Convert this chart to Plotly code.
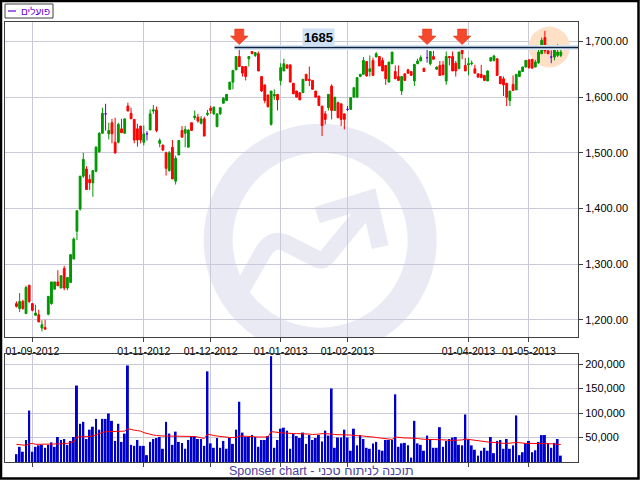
import plotly.graph_objects as go

# Daily candles (Bank Hapoalim), one entry per trading day
opens = [
    1229, 1220, 1233, 1211, 1262, 1229, 1208, 1209, 1185, 1186,
    1210, 1229, 1255, 1268, 1257, 1292, 1257, 1267, 1309, 1359,
    1399, 1458, 1471, 1452, 1446, 1467, 1502, 1535, 1570, 1534,
    1554, 1519, 1519, 1543, 1535, 1584, 1571, 1560, 1543, 1548,
    1519, 1534, 1541, 1575, 1577, 1517, 1514, 1500, 1468, 1510,
    1449, 1496, 1540, 1535, 1510, 1554, 1563, 1564, 1553, 1561,
    1569, 1580, 1570, 1547, 1570, 1589, 1594, 1614, 1627, 1649,
    1673, 1655, 1655, 1669, 1682, 1675, 1678, 1637, 1622, 1604,
    1551, 1602, 1605, 1630, 1647, 1658, 1658, 1625, 1611, 1608,
    1608, 1641, 1632, 1630, 1611, 1602, 1584, 1570, 1581, 1620,
    1576, 1590, 1588, 1570, 1578, 1578, 1600, 1600, 1637, 1641,
    1664, 1646, 1666, 1672, 1673, 1666, 1657, 1627, 1660, 1646,
    1637, 1611, 1642, 1649, 1646, 1629, 1660, 1665, 1652, 1671,
    1660, 1673, 1650, 1657, 1658, 1629, 1673, 1673, 1661, 1651,
    1686, 1657, 1658, 1660, 1651, 1642, 1641, 1639, 1629, 1665,
    1666, 1669, 1637, 1633, 1625, 1594, 1623, 1613, 1637, 1646,
    1654, 1667, 1668, 1654, 1662, 1678, 1707, 1683, 1672, 1672,
    1675, 1675,
]
highs = [
    1233, 1248, 1236, 1261, 1263, 1229, 1227, 1218, 1199, 1200,
    1242, 1268, 1268, 1289, 1280, 1297, 1276, 1317, 1348, 1396,
    1458, 1500, 1476, 1461, 1468, 1512, 1537, 1581, 1588, 1554,
    1561, 1563, 1554, 1561, 1561, 1590, 1581, 1560, 1552, 1548,
    1549, 1539, 1578, 1586, 1583, 1526, 1514, 1502, 1503, 1523,
    1495, 1522, 1548, 1548, 1542, 1554, 1576, 1570, 1566, 1565,
    1577, 1584, 1583, 1570, 1581, 1600, 1605, 1627, 1649, 1673,
    1689, 1655, 1655, 1673, 1682, 1681, 1682, 1637, 1622, 1604,
    1611, 1614, 1605, 1661, 1669, 1658, 1658, 1625, 1611, 1608,
    1632, 1641, 1655, 1630, 1611, 1602, 1584, 1575, 1605, 1623,
    1600, 1592, 1588, 1570, 1584, 1599, 1617, 1636, 1641, 1672,
    1664, 1675, 1671, 1681, 1673, 1671, 1657, 1663, 1681, 1657,
    1657, 1637, 1642, 1651, 1646, 1659, 1669, 1675, 1652, 1689,
    1682, 1683, 1655, 1665, 1665, 1682, 1674, 1682, 1665, 1681,
    1689, 1670, 1671, 1666, 1658, 1642, 1658, 1639, 1648, 1672,
    1676, 1669, 1637, 1637, 1625, 1611, 1639, 1641, 1647, 1655,
    1667, 1667, 1668, 1667, 1685, 1707, 1719, 1690, 1684, 1692,
    1695, 1690,
]
lows = [
    1222, 1214, 1218, 1211, 1230, 1215, 1208, 1196, 1179, 1183,
    1208, 1227, 1254, 1261, 1257, 1253, 1253, 1267, 1309, 1343,
    1396, 1455, 1434, 1433, 1421, 1465, 1500, 1535, 1540, 1524,
    1517, 1498, 1517, 1536, 1535, 1575, 1561, 1517, 1511, 1517,
    1513, 1522, 1541, 1570, 1537, 1510, 1503, 1459, 1466, 1453,
    1443, 1496, 1528, 1510, 1510, 1540, 1559, 1554, 1551, 1530,
    1566, 1570, 1568, 1546, 1568, 1589, 1594, 1614, 1614, 1649,
    1655, 1637, 1630, 1655, 1678, 1672, 1647, 1609, 1589, 1581,
    1549, 1595, 1576, 1621, 1647, 1652, 1627, 1606, 1600, 1595,
    1608, 1630, 1620, 1614, 1600, 1585, 1530, 1551, 1576, 1560,
    1576, 1563, 1548, 1542, 1575, 1578, 1600, 1600, 1636, 1641,
    1637, 1637, 1639, 1672, 1656, 1647, 1622, 1627, 1660, 1633,
    1630, 1604, 1630, 1642, 1639, 1620, 1660, 1665, 1646, 1662,
    1657, 1668, 1650, 1639, 1640, 1622, 1657, 1647, 1637, 1651,
    1668, 1647, 1639, 1657, 1643, 1635, 1635, 1630, 1629, 1664,
    1664, 1639, 1624, 1602, 1584, 1584, 1612, 1613, 1637, 1646,
    1654, 1651, 1652, 1654, 1660, 1678, 1678, 1678, 1661, 1666,
    1672, 1672,
]
closes = [
    1224, 1233, 1220, 1258, 1233, 1217, 1212, 1196, 1191, 1183,
    1242, 1268, 1268, 1261, 1279, 1257, 1276, 1317, 1345, 1396,
    1458, 1488, 1434, 1446, 1468, 1510, 1535, 1571, 1570, 1540,
    1534, 1500, 1551, 1536, 1561, 1575, 1561, 1523, 1523, 1523,
    1534, 1534, 1570, 1577, 1540, 1522, 1505, 1472, 1500, 1453,
    1490, 1522, 1528, 1542, 1541, 1540, 1566, 1557, 1561, 1530,
    1571, 1576, 1582, 1570, 1581, 1598, 1605, 1627, 1648, 1673,
    1655, 1643, 1637, 1673, 1678, 1680, 1647, 1611, 1594, 1583,
    1611, 1605, 1595, 1653, 1660, 1652, 1627, 1606, 1600, 1595,
    1632, 1630, 1630, 1614, 1600, 1585, 1549, 1560, 1605, 1576,
    1600, 1563, 1560, 1560, 1578, 1599, 1617, 1635, 1641, 1666,
    1638, 1651, 1639, 1678, 1656, 1647, 1633, 1663, 1681, 1633,
    1630, 1637, 1630, 1643, 1639, 1659, 1665, 1671, 1646, 1671,
    1682, 1668, 1654, 1639, 1640, 1673, 1671, 1647, 1647, 1681,
    1678, 1647, 1660, 1661, 1643, 1636, 1635, 1630, 1647, 1671,
    1674, 1639, 1624, 1622, 1600, 1611, 1612, 1641, 1647, 1654,
    1666, 1653, 1652, 1663, 1681, 1702, 1683, 1678, 1672, 1690,
    1681, 1681,
]
volumes = [
    16000, 31000, 21000, 45000, 105000, 21000, 31000, 34000, 35000, 29000,
    35000, 40000, 31000, 51000, 45000, 47000, 35000, 43000, 51000, 156000,
    78000, 82000, 47000, 66000, 72000, 88000, 66000, 88000, 88000, 99000,
    84000, 43000, 78000, 41000, 58000, 197000, 35000, 33000, 45000, 33000,
    33000, 14000, 41000, 47000, 49000, 51000, 27000, 82000, 58000, 35000,
    62000, 41000, 39000, 27000, 45000, 53000, 53000, 47000, 47000, 33000,
    185000, 38000, 29000, 49000, 29000, 43000, 27000, 49000, 37000, 66000,
    123000, 60000, 51000, 51000, 55000, 51000, 31000, 45000, 45000, 53000,
    216000, 29000, 45000, 68000, 70000, 64000, 27000, 58000, 53000, 49000,
    60000, 37000, 55000, 45000, 49000, 55000, 42000, 64000, 54000, 150000,
    29000, 50000, 50000, 66000, 50000, 23000, 68000, 34000, 55000, 47000,
    29000, 27000, 38000, 41000, 25000, 23000, 45000, 45000, 45000, 138000,
    31000, 38000, 39000, 34000, 9000, 84000, 38000, 35000, 23000, 54000,
    47000, 29000, 29000, 71000, 31000, 43000, 47000, 50000, 51000, 35000,
    34000, 97000, 46000, 34000, 25000, 13000, 23000, 29000, 23000, 51000,
    18000, 43000, 45000, 27000, 47000, 27000, 34000, 95000, 14000, 20000,
    38000, 43000, 20000, 24000, 41000, 55000, 55000, 38000, 29000, 39000,
    47000, 13000,
]
volume_avg = [
    36000, 35000, 34000, 34000, 37000, 38000, 36000, 36000, 36000, 36000,
    36000, 36000, 36000, 36000, 37000, 38000, 38000, 40000, 41000, 51000,
    51000, 51000, 52000, 52000, 53000, 56000, 58000, 60000, 62000, 62000,
    62000, 62000, 62000, 62000, 63000, 68000, 66000, 65000, 64000, 63000,
    60000, 58000, 56000, 55000, 54000, 53000, 53000, 53000, 53000, 53000,
    53000, 53000, 53000, 53000, 53000, 53000, 52000, 51000, 50000, 48000,
    57000, 55000, 54000, 53000, 52000, 51000, 51000, 50000, 50000, 50000,
    53000, 53000, 52000, 52000, 52000, 51000, 51000, 51000, 51000, 51000,
    62000, 61000, 60000, 59000, 59000, 59000, 58000, 58000, 58000, 58000,
    58000, 57000, 57000, 56000, 56000, 57000, 58000, 58000, 57000, 57000,
    56000, 56000, 56000, 55000, 55000, 55000, 54000, 54000, 53000, 53000,
    52000, 52000, 51000, 50000, 49000, 48000, 47000, 46000, 46000, 51000,
    50000, 50000, 49000, 49000, 49000, 49000, 48000, 47000, 46000, 46000,
    46000, 46000, 45000, 45000, 45000, 45000, 44000, 44000, 44000, 44000,
    45000, 47000, 46000, 45000, 45000, 44000, 43000, 42000, 41000, 40000,
    40000, 39000, 39000, 38000, 38000, 38000, 39000, 40000, 39000, 39000,
    38000, 38000, 38000, 38000, 37000, 37000, 37000, 37000, 37000, 37000,
    36000, 36000,
]

tick_idx = [5, 40, 61, 83, 104, 142, 161]
tick_text = ["01-09-2012", "01-11-2012", "01-12-2012", "01-01-2013",
             "01-02-2013", "01-04-2013", "01-05-2013"]
price_ticks = [1200, 1300, 1400, 1500, 1600, 1700]
volume_ticks = [50000, 100000, 150000, 200000]

resistance_level = 1689
resistance_label = "1685"
arrow_idx = [70, 129, 140]

FONT = "Liberation Sans, Arial, DejaVu Sans"
GREEN = "#009600"
RED = "#ff0000"
DOJI = "#6a00d4"
GRID = "#c9c9da"
FRAME = "#404040"
WATERMARK = "#eaeaf4"

# plot area is 573 x 440 px (margins l=5, r=62, t=22, b=18)
PW, PH = 573, 440

n = len(opens)
idx = list(range(n))
doji = [i for i in idx if opens[i] == closes[i]]
plain = [i for i in idx if opens[i] != closes[i]]


def pick(values, which):
    return [values[i] for i in which]


def px(x, y):
    """page pixel -> paper coords"""
    return (x - 5) / PW, 1 + (22 - y) / PH


x_range = [-3.6, n + 4.4]

fig = go.Figure()

fig.add_trace(go.Candlestick(
    x=plain, open=pick(opens, plain), high=pick(highs, plain),
    low=pick(lows, plain), close=pick(closes, plain),
    increasing=dict(line=dict(color=GREEN, width=1), fillcolor=GREEN),
    decreasing=dict(line=dict(color=RED, width=1), fillcolor=RED),
    whiskerwidth=0, xaxis="x", yaxis="y", name="פועלים",
))
# unchanged days are drawn in purple, like the legend line
fig.add_trace(go.Candlestick(
    x=doji, open=pick(opens, doji), high=pick(highs, doji),
    low=pick(lows, doji), close=pick(closes, doji),
    increasing=dict(line=dict(color=DOJI, width=1), fillcolor=DOJI),
    decreasing=dict(line=dict(color=DOJI, width=1), fillcolor=DOJI),
    whiskerwidth=0, xaxis="x", yaxis="y",
))

fig.add_trace(go.Bar(
    x=idx, y=volumes, width=0.62,
    marker=dict(color="#0000cc", line=dict(width=0)),
    xaxis="x2", yaxis="y2",
))
fig.add_trace(go.Scatter(
    x=idx, y=volume_avg, mode="lines",
    line=dict(color=RED, width=1),
    xaxis="x2", yaxis="y2",
))

shapes = []

# watermark logo: ring plus rising arrow, in pixels around its centre
logo = dict(xref="x", yref="y", xsizemode="pixel", ysizemode="pixel",
            xanchor=95.4, yanchor=1343, layer="below")
shapes.append(dict(type="circle", x0=-102, x1=102, y0=-102, y1=102,
                   line=dict(color=WATERMARK, width=29), **logo))
shapes.append(dict(
    type="path",
    path="M -80,-52 L -56,-10 Q -47,3 -34,-3 L -3,-19 Q 3,-22 8,-15 L 45,30"
         " M -3,25 L 49,41 L 60,-7",
    line=dict(color=WATERMARK, width=17), **logo))

# highlight around the latest sessions
shapes.append(dict(
    type="circle", xref="x", yref="y", xsizemode="pixel", ysizemode="pixel",
    xanchor=n - 4.6, yanchor=resistance_level, x0=-20.5, x1=20.5,
    y0=-20, y1=21, layer="between",
    fillcolor="#fde0c6", line=dict(width=0),
))

# resistance line with its light glow
for width, color in [(5, "#d8e7f5"), (1.5, "#0d2240")]:
    shapes.append(dict(
        type="line", xref="x", yref="y",
        x0=arrow_idx[0] - 1.5, x1=x_range[1],
        y0=resistance_level, y1=resistance_level,
        line=dict(color=color, width=width), layer="above",
    ))

for i in arrow_idx:
    shapes.append(dict(
        type="path", xref="x", yref="y", xsizemode="pixel", ysizemode="pixel",
        xanchor=i, yanchor=resistance_level,
        path="M 0,3 L -8.8,11.5 L -4.5,11.5 L -4.5,18.5 L 4.5,18.5 L 4.5,11.5 L 8.8,11.5 Z",
        fillcolor="#f4492c", line=dict(color="#e23417", width=0.6),
        layer="above",
    ))

# legend box: frame and purple line sample
(bx0, by0), (bx1, by1) = px(5, 18), px(53, 4)
shapes.append(dict(type="rect", xref="paper", yref="paper",
                   x0=bx0, x1=bx1, y0=by0, y1=by1,
                   line=dict(color=FRAME, width=1), fillcolor="white"))
(lx0, ly), (lx1, _) = px(8, 11), px(16, 11)
shapes.append(dict(type="line", xref="paper", yref="paper",
                   x0=lx0, x1=lx1, y0=ly, y1=ly,
                   line=dict(color=DOJI, width=1.2)))

# outer frame of the whole picture
(fx0, fy0), (fx1, fy1) = px(1, 478.5), px(638.5, 1)
shapes.append(dict(
    type="rect", xref="paper", yref="paper",
    x0=fx0, x1=fx1, y0=fy0, y1=fy1,
    line=dict(color="black", width=2.5), layer="above",
))

tx, ty = px(51, 11)
sx, sy = px(321, 471)
annotations = [
    dict(x=95, y=resistance_level, xref="x", yref="y",
         text="<b>" + resistance_label + "</b>", showarrow=False,
         yanchor="bottom", yshift=1, bgcolor="#cfe2f4", borderpad=1,
         font=dict(family=FONT, size=13, color="black")),
    dict(x=tx, y=ty, xref="paper", yref="paper",
         xanchor="right", yanchor="middle", text="פועלים", showarrow=False,
         borderpad=0, font=dict(family=FONT, size=10, color=DOJI)),
    dict(x=sx, y=sy, xref="paper", yref="paper",
         text="Sponser chart - תוכנה לניתוח טכני", showarrow=False,
         yanchor="middle", font=dict(family=FONT, size=12.5, color="#4c40a0")),
]

axis_common = dict(showgrid=True, gridcolor=GRID, gridwidth=1, zeroline=False,
                   showline=True, mirror=True, linecolor=FRAME, linewidth=1,
                   ticks="outside", ticklen=4, tickcolor=FRAME)

fig.update_layout(
    width=640, height=480,
    margin=dict(l=5, r=62, t=22, b=18),
    paper_bgcolor="white", plot_bgcolor="white",
    font=dict(family=FONT, size=11, color="black"),
    showlegend=False,
    boxgap=0.25, boxgroupgap=0.25,
    shapes=shapes,
    annotations=annotations,
    xaxis=dict(domain=[0, 1], anchor="y", range=x_range, tickmode="array",
               tickvals=tick_idx, ticktext=tick_text, rangeslider=dict(visible=False),
               tickfont=dict(size=10.5), **axis_common),
    yaxis=dict(domain=[125 / PH, 1], anchor="x", side="right", range=[1169, 1735],
               tickmode="array", tickvals=price_ticks, tickformat=",.2f",
               **axis_common),
    xaxis2=dict(domain=[0, 1], anchor="y2", range=x_range, tickmode="array",
                tickvals=tick_idx, showticklabels=False, **axis_common),
    yaxis2=dict(domain=[0, 108 / PH], anchor="x2", side="right", range=[0, 220400],
                tickmode="array", tickvals=volume_ticks, tickformat=",d",
                **axis_common),
)

# the page's default body margin would push the 640x480 figure off-centre
fig.write_html("out.html", config={"displayModeBar": False},
               post_script="document.body.style.margin = '0';")
